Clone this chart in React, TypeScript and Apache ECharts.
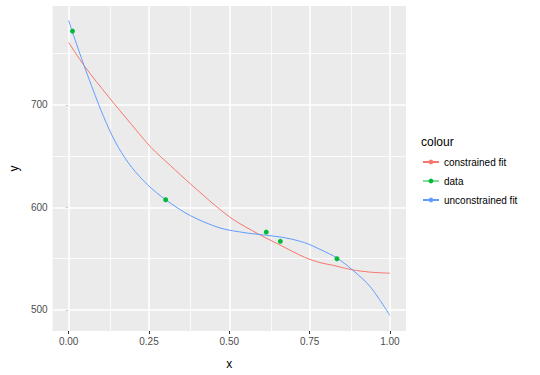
import React, { useEffect, useRef } from "react";
import * as echarts from "echarts";

const dataX = [0.012, 0.302, 0.615, 0.659, 0.835];
const dataY = [772, 607.5, 576, 567, 550];

const unconstrainedX = [0, 0.012, 0.048, 0.094, 0.124, 0.155, 0.196, 0.246, 0.302, 0.379, 0.471, 0.552, 0.593, 0.674, 0.735, 0.786, 0.835, 0.883, 0.939, 1.0];
const unconstrainedY = [782.5, 771, 738.4, 700, 677.6, 658.4, 639.3, 622, 607.5, 592, 580, 575.2, 573.7, 570.4, 565.6, 558.6, 550.7, 539.2, 522.6, 494.6];

const constrainedX = [0, 0.048, 0.124, 0.196, 0.257, 0.318, 0.379, 0.419, 0.45, 0.511, 0.593, 0.654, 0.735, 0.786, 0.817, 0.883, 0.939, 1.0];
const constrainedY = [761, 738.4, 708, 680.8, 658.4, 640.5, 623, 612, 603.5, 588.5, 573.7, 564, 551.3, 545.9, 544, 539.2, 536.9, 535.9];

const xTicks = [0, 0.25, 0.5, 0.75, 1];
const xMinor = [0.125, 0.375, 0.625, 0.875];
const yTicks = [500, 600, 700];
const yMinor = [550, 650, 750];

const seriesNames = ["constrained fit", "data", "unconstrained fit"];
const colors = ["#F8766D", "#00BA38", "#619CFF"];

const zip = (xs: number[], ys: number[]) => xs.map((x, i) => [x, ys[i]]);

export default function App() {
  const ref = useRef<HTMLDivElement>(null);
  useEffect(() => {
    if (!ref.current) return;
    const chart = echarts.init(ref.current, null, { renderer: "svg" });
    const font = "Liberation Sans, Arial, sans-serif";
    const major = { color: "#ffffff", width: 1.6, type: "solid" };
    const minor = { color: "#ffffff", width: 0.8, type: "solid" };
    const gridLines = [
      ...xMinor.map((v) => ({ xAxis: v, lineStyle: minor })),
      ...yMinor.map((v) => ({ yAxis: v, lineStyle: minor })),
      ...xTicks.map((v) => ({ xAxis: v, lineStyle: major })),
      ...yTicks.map((v) => ({ yAxis: v, lineStyle: major })),
    ];
    chart.setOption({
      animation: false,
      backgroundColor: "#ffffff",
      textStyle: { fontFamily: font },
      grid: {
        left: 46,
        right: 134,
        top: 6,
        bottom: 39,
        show: true,
        backgroundColor: "#EBEBEB",
        borderWidth: 0,
      },
      title: {
        text: "colour",
        left: 421,
        top: 136,
        padding: 0,
        textStyle: { fontSize: 12, fontWeight: "normal", color: "#000000", fontFamily: font },
      },
      legend: {
        orient: "vertical",
        left: 422,
        top: 157,
        padding: 0,
        itemWidth: 16,
        itemHeight: 6,
        itemGap: 9,
        textStyle: { fontSize: 10, color: "#000000", fontFamily: font },
        data: [
          { name: "constrained fit" },
          { name: "data", lineStyle: { width: 1, opacity: 1, color: colors[1] } },
          { name: "unconstrained fit" },
        ],
      },
      xAxis: {
        type: "value",
        min: -0.05,
        max: 1.05,
        name: "x",
        nameLocation: "middle",
        nameGap: 27,
        nameTextStyle: { fontSize: 12, color: "#000000", fontFamily: font },
        axisLine: { show: false },
        axisTick: { show: true, length: 3, customValues: xTicks, lineStyle: { color: "#333333" } },
        axisLabel: {
          customValues: xTicks,
          margin: 5,
          fontSize: 10,
          color: "#4D4D4D",
          formatter: (v: number) => v.toFixed(2),
        },
        splitLine: { show: false },
      },
      yAxis: {
        type: "value",
        min: 479.5,
        max: 796.5,
        name: "y",
        nameLocation: "middle",
        nameGap: 31,
        nameTextStyle: { fontSize: 12, color: "#000000", fontFamily: font },
        axisLine: { show: false },
        axisTick: { show: true, length: 3, customValues: yTicks, lineStyle: { color: "#333333" } },
        axisLabel: {
          customValues: yTicks,
          margin: 5,
          fontSize: 10,
          color: "#4D4D4D",
          formatter: (v: number) => String(v),
        },
        splitLine: { show: false },
      },
      series: [
        {
          name: seriesNames[0],
          type: "line",
          data: zip(constrainedX, constrainedY),
          smooth: 0.3,
          showSymbol: false,
          symbol: "circle",
          symbolSize: 5,
          color: colors[0],
          lineStyle: { width: 1, color: colors[0] },
          z: 3,
          markLine: {
            silent: true,
            symbol: "none",
            z: 1,
            label: { show: false },
            emphasis: { disabled: true },
            data: gridLines,
          },
        },
        {
          name: seriesNames[1],
          type: "line",
          data: zip(dataX, dataY),
          showSymbol: true,
          symbol: "circle",
          symbolSize: 5,
          color: colors[1],
          lineStyle: { width: 0, opacity: 0, color: colors[1] },
          itemStyle: { color: colors[1] },
          z: 4,
        },
        {
          name: seriesNames[2],
          type: "line",
          data: zip(unconstrainedX, unconstrainedY),
          smooth: 0.3,
          showSymbol: false,
          symbol: "circle",
          symbolSize: 5,
          color: colors[2],
          lineStyle: { width: 1, color: colors[2] },
          z: 3,
        },
      ],
    });
    return () => chart.dispose();
  }, []);
  return <div ref={ref} style={{ width: 540, height: 375, position: "absolute", left: 0, top: 0 }} />;
}
